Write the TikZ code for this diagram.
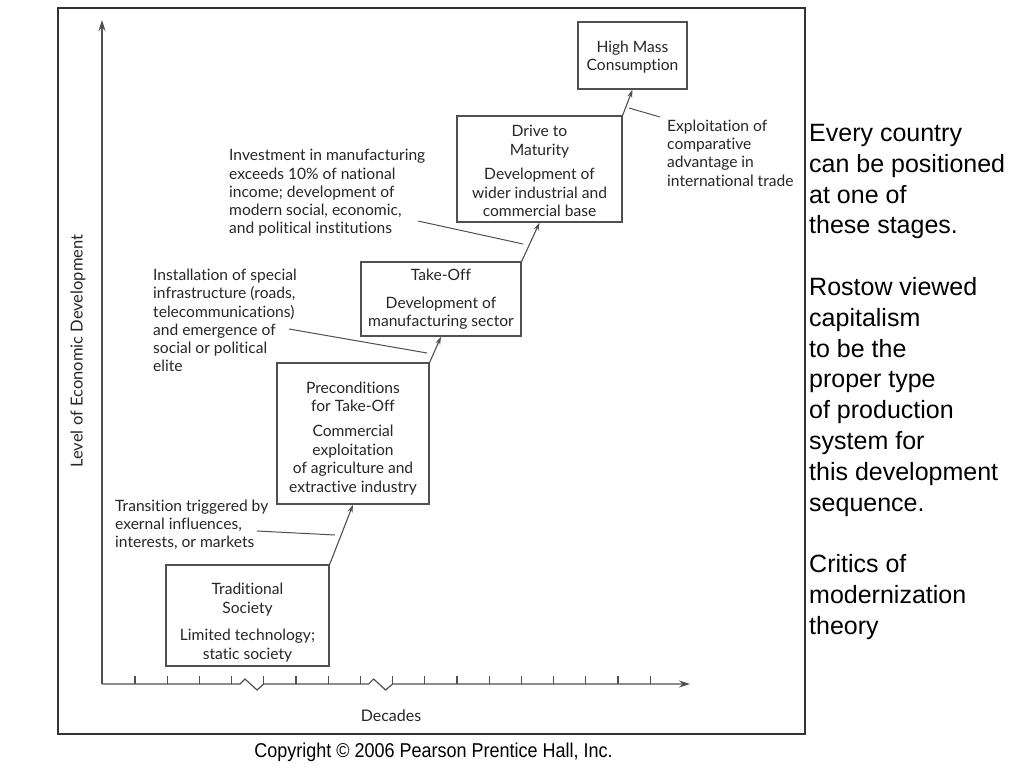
\documentclass[tikz,border=0pt]{standalone}
\usepackage{fontspec}
\usepackage{graphicx}
\setmainfont{Lato}[Ligatures=NoCommon]
\newfontfamily\slidefont{Liberation Sans}
\usetikzlibrary{arrows.meta}
\definecolor{figline}{HTML}{505050}
\definecolor{figtext}{HTML}{262626}

\begin{document}
\begin{tikzpicture}[x=1pt,y=-1pt,
  stage/.style={draw=figline, line width=1.3pt, inner sep=0pt},
  stagetext/.style={align=center, text=figtext, inner sep=0pt, font=\fontsize{15.6}{18.5}\selectfont},
  note/.style={align=left, anchor=west, text=figtext, inner sep=0pt, font=\fontsize{15.6}{18.3}\selectfont},
  lead/.style={draw=figline, line width=1pt},
  stagearrow/.style={draw=figline, line width=1.1pt, -{Stealth[length=8pt,width=5pt]}},
  axis/.style={draw=figline, line width=1.2pt}]
\useasboundingbox (0,0) rectangle (1024,768);

\draw[line width=2pt, color=black!80] (58,8) rectangle (805,734);

% axes
\coordinate (origin) at (102,684);
\coordinate (ytop) at (102,20);
\coordinate (xend) at (690,684);
\draw[axis, -{Stealth[length=11pt,width=7pt]}] (origin) -- (ytop);
\draw[axis, -{Stealth[length=11pt,width=7pt]}] (origin) -- (240,684) -- ++(5,-5) -- ++(12,11) -- ++(6.8,-6)
  -- (368.6,684) -- ++(5,-5) -- ++(12,11) -- ++(7,-6) -- (xend);
\foreach \k in {0,...,16}
  \draw[axis] (135+32.2*\k,684) -- ++(0,-8);

\node[rotate=90, text=figtext, font=\fontsize{16.5}{18}\selectfont] (ylab) at (78,351) {Level of Economic Development};
\node[text=figtext, font=\fontsize{16}{18}\selectfont] (xlab) at (391,716) {Decades};

% stages
\node[stage, minimum width=163pt, minimum height=101pt] (trad) at (247.5,615.5) {};
\node[stage, minimum width=152pt, minimum height=141pt] (pre) at (353,433.5) {};
\node[stage, minimum width=160pt, minimum height=74pt] (take) at (441,299) {};
\node[stage, minimum width=165pt, minimum height=106pt] (drive) at (539.5,169) {};
\node[stage, minimum width=109pt, minimum height=67pt] (high) at (632.5,55.5) {};

\node[stagetext] (tradtxt) at (247.5,622.5) {Traditional\\Society\\[9pt]Limited technology;\\static society};
\node[stagetext] (pretxt) at (353,438.5) {Preconditions\\for Take-Off\\[6.5pt]Commercial\\exploitation\\of agriculture and\\extractive industry};
\node[stagetext] (taketxt) at (441,299.5) {Take-Off\\[9pt]Development of\\manufacturing sector};
\node[stagetext] (drivetxt) at (539.5,171) {Drive to\\Maturity\\[6pt]Development of\\wider industrial and\\commercial base};
\node[stagetext] (hightxt) at (632.5,57) {High Mass\\Consumption};

\draw[stagearrow] (trad.north east) -- (pre.south);
\draw[stagearrow] (pre.north east) -- (take.south);
\draw[stagearrow] (take.north east) -- (drive.south);
\draw[stagearrow] (drive.north east) -- (high.south);

% notes
\node[note] (trans) at (115,525) {Transition triggered by\\exernal influences,\\interests, or markets};
\node[note] (infra) at (153,320.5) {Installation of special\\infrastructure (roads,\\telecommunications)\\and emergence of\\social or political\\elite};
\node[note] (invest) at (229,193) {Investment in manufacturing\\exceeds 10\% of national\\income; development of\\modern social, economic,\\and political institutions};
\node[note] (trade) at (667,153) {Exploitation of\\comparative\\advantage in\\international trade};

\coordinate (transa) at (257,531);  \coordinate (transb) at (335,535);
\coordinate (infraa) at (289,329);  \coordinate (infrab) at (427,353);
\coordinate (investa) at (418,221); \coordinate (investb) at (523,244);
\coordinate (tradea) at (660,117);  \coordinate (tradeb) at (629,108);
\draw[lead] (transa) -- (transb);
\draw[lead] (infraa) -- (infrab);
\draw[lead] (investa) -- (investb);
\draw[lead] (tradea) -- (tradeb);

% slide text
\node[anchor=north west, align=left, inner sep=0pt, font=\slidefont\fontsize{25}{30.8}\selectfont] (remarks) at (809,124)
  {Every country\\can be positioned\\at one of\\these stages.\\[30.8pt]Rostow viewed\\capitalism\\to be the\\proper type\\of production\\system for\\this development\\sequence.\\[30.8pt]Critics of\\modernization\\theory};

\node[font=\slidefont\fontsize{20}{24}\selectfont] (copy) at (433.5,752) {\scalebox{0.9}[1]{Copyright \textcopyright{} 2006 Pearson Prentice Hall, Inc.}};
\end{tikzpicture}
\end{document}
